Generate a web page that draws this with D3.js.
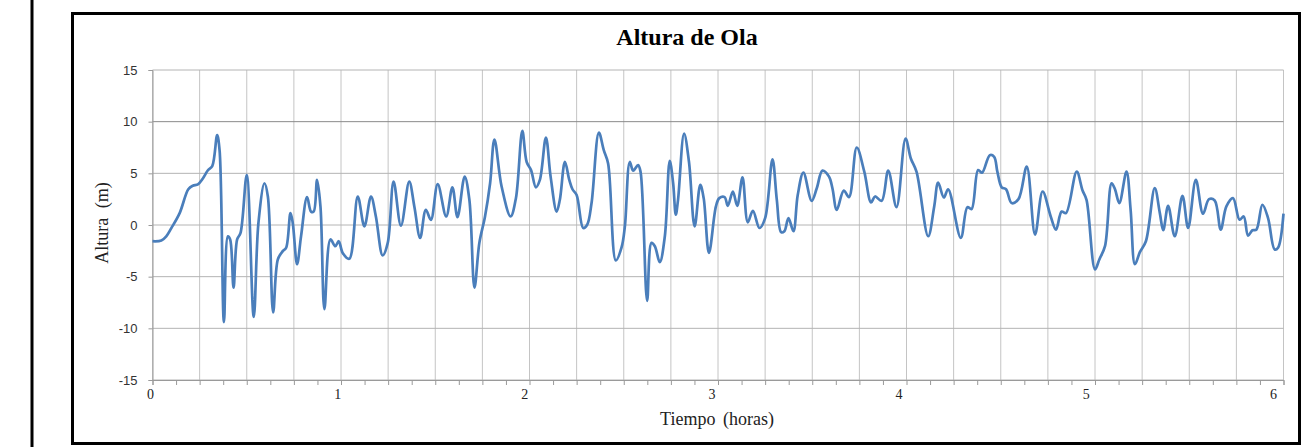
<!DOCTYPE html>
<html>
<head>
<meta charset="utf-8">
<script src="https://cdn.jsdelivr.net/npm/d3@7"></script>
<style>
    body { margin: 0; background: #fff; }
    svg { display: block; }
</style>
</head>
<body>
<svg id="chart" width="1302" height="447"></svg>
<script>
// wave height record, time in hours / height in metres
let times = [
    0, 0.047, 0.073, 0.1, 0.144, 0.19, 0.214, 0.241, 0.267, 0.294, 0.317, 0.343, 0.356, 0.379,
    0.4, 0.412, 0.43, 0.449, 0.467, 0.5, 0.537, 0.562, 0.594, 0.612, 0.64, 0.665, 0.691, 0.709,
    0.732, 0.744, 0.767, 0.788, 0.82, 0.841, 0.855, 0.873, 0.891, 0.912, 0.944, 0.97, 0.988,
    1.009, 1.044, 1.089, 1.124, 1.159, 1.185, 1.221, 1.248, 1.279, 1.318, 1.362, 1.389, 1.42,
    1.45, 1.477, 1.513, 1.558, 1.591, 1.618, 1.656, 1.681, 1.708, 1.734, 1.764, 1.791, 1.814,
    1.852, 1.9, 1.928, 1.962, 1.985, 2.008, 2.034, 2.055, 2.087, 2.112, 2.144, 2.161, 2.188,
    2.211, 2.228, 2.25, 2.285, 2.306, 2.329, 2.368, 2.394, 2.417, 2.458, 2.488, 2.506, 2.532,
    2.55, 2.576, 2.589, 2.624, 2.647, 2.665, 2.691, 2.718, 2.744, 2.762, 2.776, 2.788, 2.82,
    2.846, 2.876, 2.906, 2.924, 2.952, 2.989, 3.007, 3.035, 3.052, 3.079, 3.102, 3.13, 3.158,
    3.185, 3.22, 3.25, 3.289, 3.312, 3.335, 3.352, 3.374, 3.4, 3.423, 3.453, 3.497, 3.524,
    3.554, 3.589, 3.607, 3.63, 3.667, 3.695, 3.736, 3.776, 3.812, 3.833, 3.868, 3.903, 3.947,
    3.995, 4.023, 4.053, 4.115, 4.147, 4.168, 4.198, 4.221, 4.288, 4.323, 4.345, 4.38, 4.401,
    4.442, 4.465, 4.482, 4.505, 4.528, 4.558, 4.594, 4.638, 4.682, 4.722, 4.765, 4.793, 4.823,
    4.846, 4.903, 4.934, 4.955, 5.0, 5.023, 5.053, 5.088, 5.106, 5.129, 5.167, 5.189, 5.212,
    5.238, 5.27, 5.317, 5.344, 5.362, 5.388, 5.423, 5.464, 5.494, 5.535, 5.573, 5.605, 5.635,
    5.667, 5.697, 5.732, 5.767, 5.789, 5.812, 5.835, 5.856, 5.888, 5.918, 5.953, 5.971, 6.0
];
let heights = [
    -1.57, -1.5, -1.1, -0.3, 1.15, 3.46, 3.8, 3.94, 4.5, 5.3, 5.7, 8.7, 7.2, -9.4,
    -1.1, -1.4, -6.06, -1.4, -0.77, 4.84, -8.9, 0.2, 4.04, 2.76, -8.46, -3.33, -2.53, -2.2,
    1.15, 0.2, -3.8, -1.1, 2.7, 1.3, 1.3, 4.36, 1.8, -8.14, -1.4, -2.05, -1.57,
    -2.7, -3.27, 2.76, -0.13, 2.76, 0.83, -2.95, -1.73, 4.2, -0.06, 4.2, 1.8, -1.25,
    1.47, 0.5, 3.95, 0.83, 3.65, 0.77, 4.68, 2.44, -6.06, -1.73, 0.83, 4.04, 8.27,
    3.72, 0.83, 2.6, 9.1, 6.1, 5.32, 3.65, 4.36, 8.46, 4.68, 1.3, 2.44, 6.1,
    4.36, 3.46, 2.9, -0.29, 0.03, 2.1, 8.94, 7.24, 5.96, -3.43, -2.2, -0.13, 6.1,
    5.26, 5.8, 5.16, -7.34, -1.73, -2.05, -3.6, -1.09, 6.22, 4.04, 0.99, 2.44, 8.85,
    6.12, -0.13, 3.88, 2.6, -2.7, 1.8, 2.6, 2.7, 1.86, 3.24, 1.86, 4.6, 0.26,
    1.38, -0.29, 0.67, 6.35, 2.44, -0.7, -0.6, 0.67, -0.6, 2.9, 5.06, 2.34, 3.56,
    5.26, 4.68, 3.56, 1.47, 3.33, 2.7, 7.5, 5.16, 2.18, 2.76, 2.34, 5.26, 1.73,
    8.37, 6.44, 5.16, -1.09, 1.8, 4.1, 2.66, 3.46, -1.25, 1.73, 1.54, 5.32, 5.06,
    6.76, 6.6, 5.16, 3.65, 3.46, 2.12, 2.5, 5.64, -0.93, 3.24, 0.83, -0.45, 1.3,
    1.15, 5.16, 3.33, 2.44, -4.3, -3.33, -2.05, 4.04, 3.46, 2.12, 5.16, 1.47, -3.8,
    -2.63, -1.57, 3.56, 1.15, -0.51, 1.86, -1.09, 2.82, -0.29, 4.36, 1.09, 2.5, 2.37,
    -0.45, 1.8, 2.6, 0.51, 0.83, -1.03, -0.51, -0.45, 1.96, 0.67, -2.37, -2.2, 1.1
];

let yTicks = [-15, -10, -5, 0, 5, 10, 15];
let xLabels = [0, 1, 2, 3, 4, 5, 6];
let xGrid = d3.range(0, 6.001, 0.25);
let xMinor = d3.range(0, 6.001, 0.125);

let svg = d3.select("#chart");

// frame lines
svg.append("line")
    .attr("x1", 32).attr("x2", 32).attr("y1", 0).attr("y2", 447)
    .attr("stroke", "#000").attr("stroke-width", 3);

svg.append("rect")
    .attr("x", 72.5).attr("y", 13.5)
    .attr("width", 1227).attr("height", 430)
    .attr("fill", "#fff").attr("stroke", "#000").attr("stroke-width", 3);

let x = d3.scaleLinear().domain([0, 6]).range([152.5, 1283.5]);
let y = d3.scaleLinear().domain([-15, 15]).range([380, 70]);

// vertical grid
svg.append("g").selectAll("line")
    .data(xGrid).enter().append("line")
    .attr("x1", d => x(d)).attr("x2", d => x(d))
    .attr("y1", y(15)).attr("y2", y(-15))
    .attr("stroke", "#c4c4c4").attr("stroke-width", 1);

// horizontal grid
svg.append("g").selectAll("line")
    .data(yTicks).enter().append("line")
    .attr("x1", x(0)).attr("x2", x(6))
    .attr("y1", d => y(d)).attr("y2", d => y(d))
    .attr("stroke", d => d === 10 ? "#8a8a8a" : "#b4b4b4").attr("stroke-width", 1);

// x axis with small ticks
let xAxis = svg.append("g")
    .attr("transform", "translate(0," + y(-15) + ")")
    .call(d3.axisBottom(x).tickValues(xMinor).tickSize(5).tickFormat(""));
xAxis.select(".domain").attr("stroke", "#9a9a9a");
xAxis.selectAll(".tick line").attr("stroke", "#9a9a9a");

svg.append("g").selectAll("text")
    .data(xLabels).enter().append("text")
    .attr("x", d => x(d) - 2 - 1.35 * d)
    .attr("y", 399)
    .attr("text-anchor", "middle")
    .attr("font-family", "Liberation Serif, Times New Roman, serif")
    .attr("font-size", 14)
    .attr("fill", "#222")
    .text(d => d);

// y axis (plain hyphen for negatives, like the original)
let yAxis = svg.append("g")
    .attr("transform", "translate(" + x(0) + ",0)")
    .call(d3.axisLeft(y).tickValues(yTicks).tickSize(4).tickPadding(11).tickFormat(d => String(d)));
yAxis.select(".domain").attr("stroke", "#9a9a9a");
yAxis.selectAll(".tick line").attr("stroke", "#9a9a9a");
yAxis.selectAll(".tick text")
    .attr("font-family", "Liberation Sans, Arial, sans-serif")
    .attr("font-size", 13)
    .attr("fill", "#333");

// the wave line
let line = d3.line()
    .x((d, i) => x(times[i]))
    .y(d => y(d))
    .curve(d3.curveCatmullRom.alpha(0.5));

svg.append("path")
    .datum(heights)
    .attr("d", line)
    .attr("fill", "none")
    .attr("stroke", "#4a7ebb")
    .attr("stroke-width", 2.7)
    .attr("stroke-linejoin", "round");

// titles
svg.append("text")
    .attr("x", 687).attr("y", 45)
    .attr("text-anchor", "middle")
    .attr("font-family", "Liberation Serif, Times New Roman, serif")
    .attr("font-weight", "bold")
    .attr("font-size", 24)
    .text("Altura de Ola");

svg.append("text")
    .attr("x", 717).attr("y", 425)
    .attr("text-anchor", "middle")
    .attr("font-family", "Liberation Serif, Times New Roman, serif")
    .attr("font-size", 18)
    .attr("word-spacing", 3)
    .attr("fill", "#222")
    .text("Tiempo (horas)");

svg.append("text")
    .attr("transform", "translate(107.5,223) rotate(-90)")
    .attr("text-anchor", "middle")
    .attr("font-family", "Liberation Serif, Times New Roman, serif")
    .attr("font-size", 18)
    .attr("word-spacing", 5)
    .attr("fill", "#222")
    .text("Altura (m)");
</script>
</body>
</html>
